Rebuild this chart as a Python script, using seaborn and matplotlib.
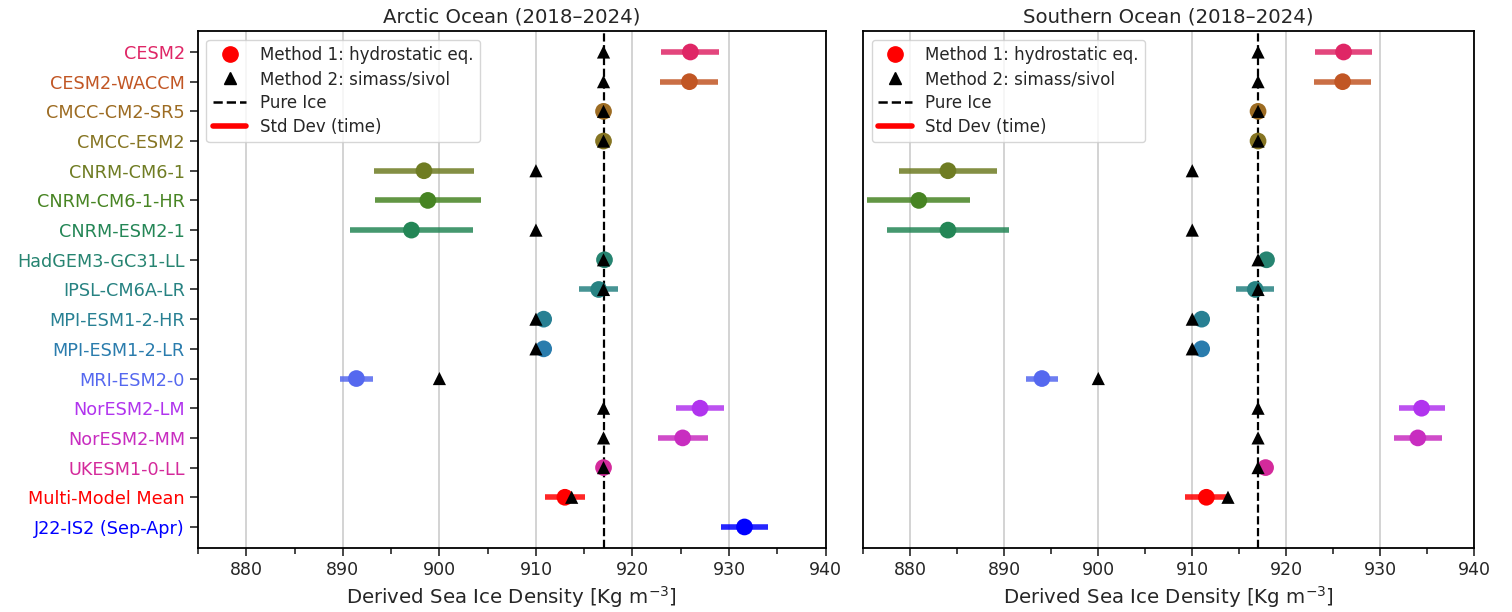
import numpy as np
import pandas as pd
import matplotlib
matplotlib.use("Agg")
import matplotlib.pyplot as plt
from matplotlib.lines import Line2D
from matplotlib.ticker import MultipleLocator
import seaborn as sns

# model names (top to bottom)
models = [
    "CESM2", "CESM2-WACCM", "CMCC-CM2-SR5", "CMCC-ESM2", "CNRM-CM6-1",
    "CNRM-CM6-1-HR", "CNRM-ESM2-1", "HadGEM3-GC31-LL", "IPSL-CM6A-LR",
    "MPI-ESM1-2-HR", "MPI-ESM1-2-LR", "MRI-ESM2-0", "NorESM2-LM",
    "NorESM2-MM", "UKESM1-0-LL", "Multi-Model Mean", "J22-IS2 (Sep-Apr)",
]

# Method 1 (hydrostatic eq.) mean and std dev over time
arctic_m1 = [926.0, 925.9, 917.0, 917.0, 898.4, 898.8, 897.1, 917.1, 916.5,
             910.8, 910.8, 891.4, 927.0, 925.2, 917.0, 913.0, 931.6]
arctic_std = [3.0, 3.0, 0.3, 0.3, 5.15, 5.5, 6.4, 0.3, 2.0,
              0.3, 0.3, 1.7, 2.5, 2.6, 0.3, 2.1, 2.4]
southern_m1 = [926.1, 926.0, 917.0, 917.0, 884.0, 880.9, 884.0, 917.9, 916.7,
               911.0, 911.0, 894.0, 934.4, 934.0, 917.8, 911.5, np.nan]
southern_std = [3.0, 3.0, 0.3, 0.3, 5.2, 5.5, 6.45, 0.3, 2.0,
                0.3, 0.3, 1.7, 2.45, 2.55, 0.3, 2.3, np.nan]

# Method 2 (simass/sivol)
arctic_m2 = [917, 917, 917, 917, 910, np.nan, 910, 917, 917,
             910, 910, 900, 917, 917, 917, 913.7, np.nan]
southern_m2 = [917, 917, 917, 917, 910, np.nan, 910, 917, 917,
               910, 910, 900, 917, 917, 917, 913.8, np.nan]

pure_ice = 917.0

model_colors = sns.husl_palette(15, h=0.0, s=0.9, l=0.5)
colors = list(model_colors) + [(1.0, 0.0, 0.0), (0.0, 0.0, 1.0)]

sns.set_style("ticks")
plt.rcParams["font.family"] = ["DejaVu Sans"]

fig, axes = plt.subplots(1, 2, figsize=(15.12, 6.12), dpi=100, sharey=True)
# axes boxes in figure fractions (left panel is slightly wider)
axes[0].set_position([0.131, 0.105, 0.415, 0.844])
axes[1].set_position([0.571, 0.105, 0.404, 0.844])

regions = [
    ("Arctic Ocean (2018\u20132024)", arctic_m1, arctic_std, arctic_m2),
    ("Southern Ocean (2018\u20132024)", southern_m1, southern_std, southern_m2),
]

for ax, (title, m1, std, m2) in zip(axes, regions):
    df = pd.DataFrame({"model": models, "m1": m1, "std": std, "m2": m2})
    df["y"] = np.arange(len(models))
    df["lo"] = df["m1"] - df["std"]
    df["hi"] = df["m1"] + df["std"]
    d1 = df.dropna(subset=["m1"])

    ax.hlines(d1["y"], d1["lo"], d1["hi"], colors=[colors[i] for i in d1.index],
              lw=4.0, alpha=0.85, zorder=2)
    sns.scatterplot(data=d1, x="m1", y="y", hue="model", palette=dict(zip(models, colors)),
                    s=145, marker="o", edgecolor="none", legend=False, ax=ax, zorder=3)
    d2 = df.dropna(subset=["m2"])
    sns.scatterplot(data=d2, x="m2", y="y", color="black", s=90, marker="^",
                    edgecolor="none", legend=False, ax=ax, zorder=4)
    ax.axvline(pure_ice, color="black", ls="--", lw=1.6, zorder=1)

    ax.set_xlim(875, 940)
    ax.set_ylim(16.7, -0.7)
    ax.xaxis.set_major_locator(MultipleLocator(10))
    ax.xaxis.set_minor_locator(MultipleLocator(5))
    ax.tick_params(axis="x", which="major", length=6, width=1.2, labelsize=12.5)
    ax.tick_params(axis="x", which="minor", length=4, width=1.2)
    ax.grid(axis="x", which="major", color="#cccccc", lw=1.2)
    ax.set_axisbelow(True)
    for sp in ax.spines.values():
        sp.set_linewidth(1.3)
        sp.set_color("black")
    ax.set_title(title, fontsize=14.2)
    ax.set_xlabel("Derived Sea Ice Density [Kg m$^{-3}$]", fontsize=14.2)
    ax.set_ylabel("")

    handles = [
        Line2D([], [], marker="o", color="red", ls="none", markersize=11),
        Line2D([], [], marker="^", color="black", ls="none", markersize=9),
        Line2D([], [], color="black", ls="--", lw=1.8),
        Line2D([], [], color="red", lw=4),
    ]
    labels = ["Method 1: hydrostatic eq.", "Method 2: simass/sivol", "Pure Ice", "Std Dev (time)"]
    ax.legend(handles, labels, loc="upper left", fontsize=12, framealpha=0.8,
              borderaxespad=0.5, handlelength=2.0, labelspacing=0.35)

axes[0].set_yticks(np.arange(len(models)))
axes[0].set_yticklabels(models)
axes[0].tick_params(axis="y", length=6, width=1.2, labelsize=12.7)
for lab, c in zip(axes[0].get_yticklabels(), colors):
    lab.set_color(c)
axes[1].tick_params(axis="y", left=False, labelleft=False)

fig.savefig("out.png", dpi=100)
